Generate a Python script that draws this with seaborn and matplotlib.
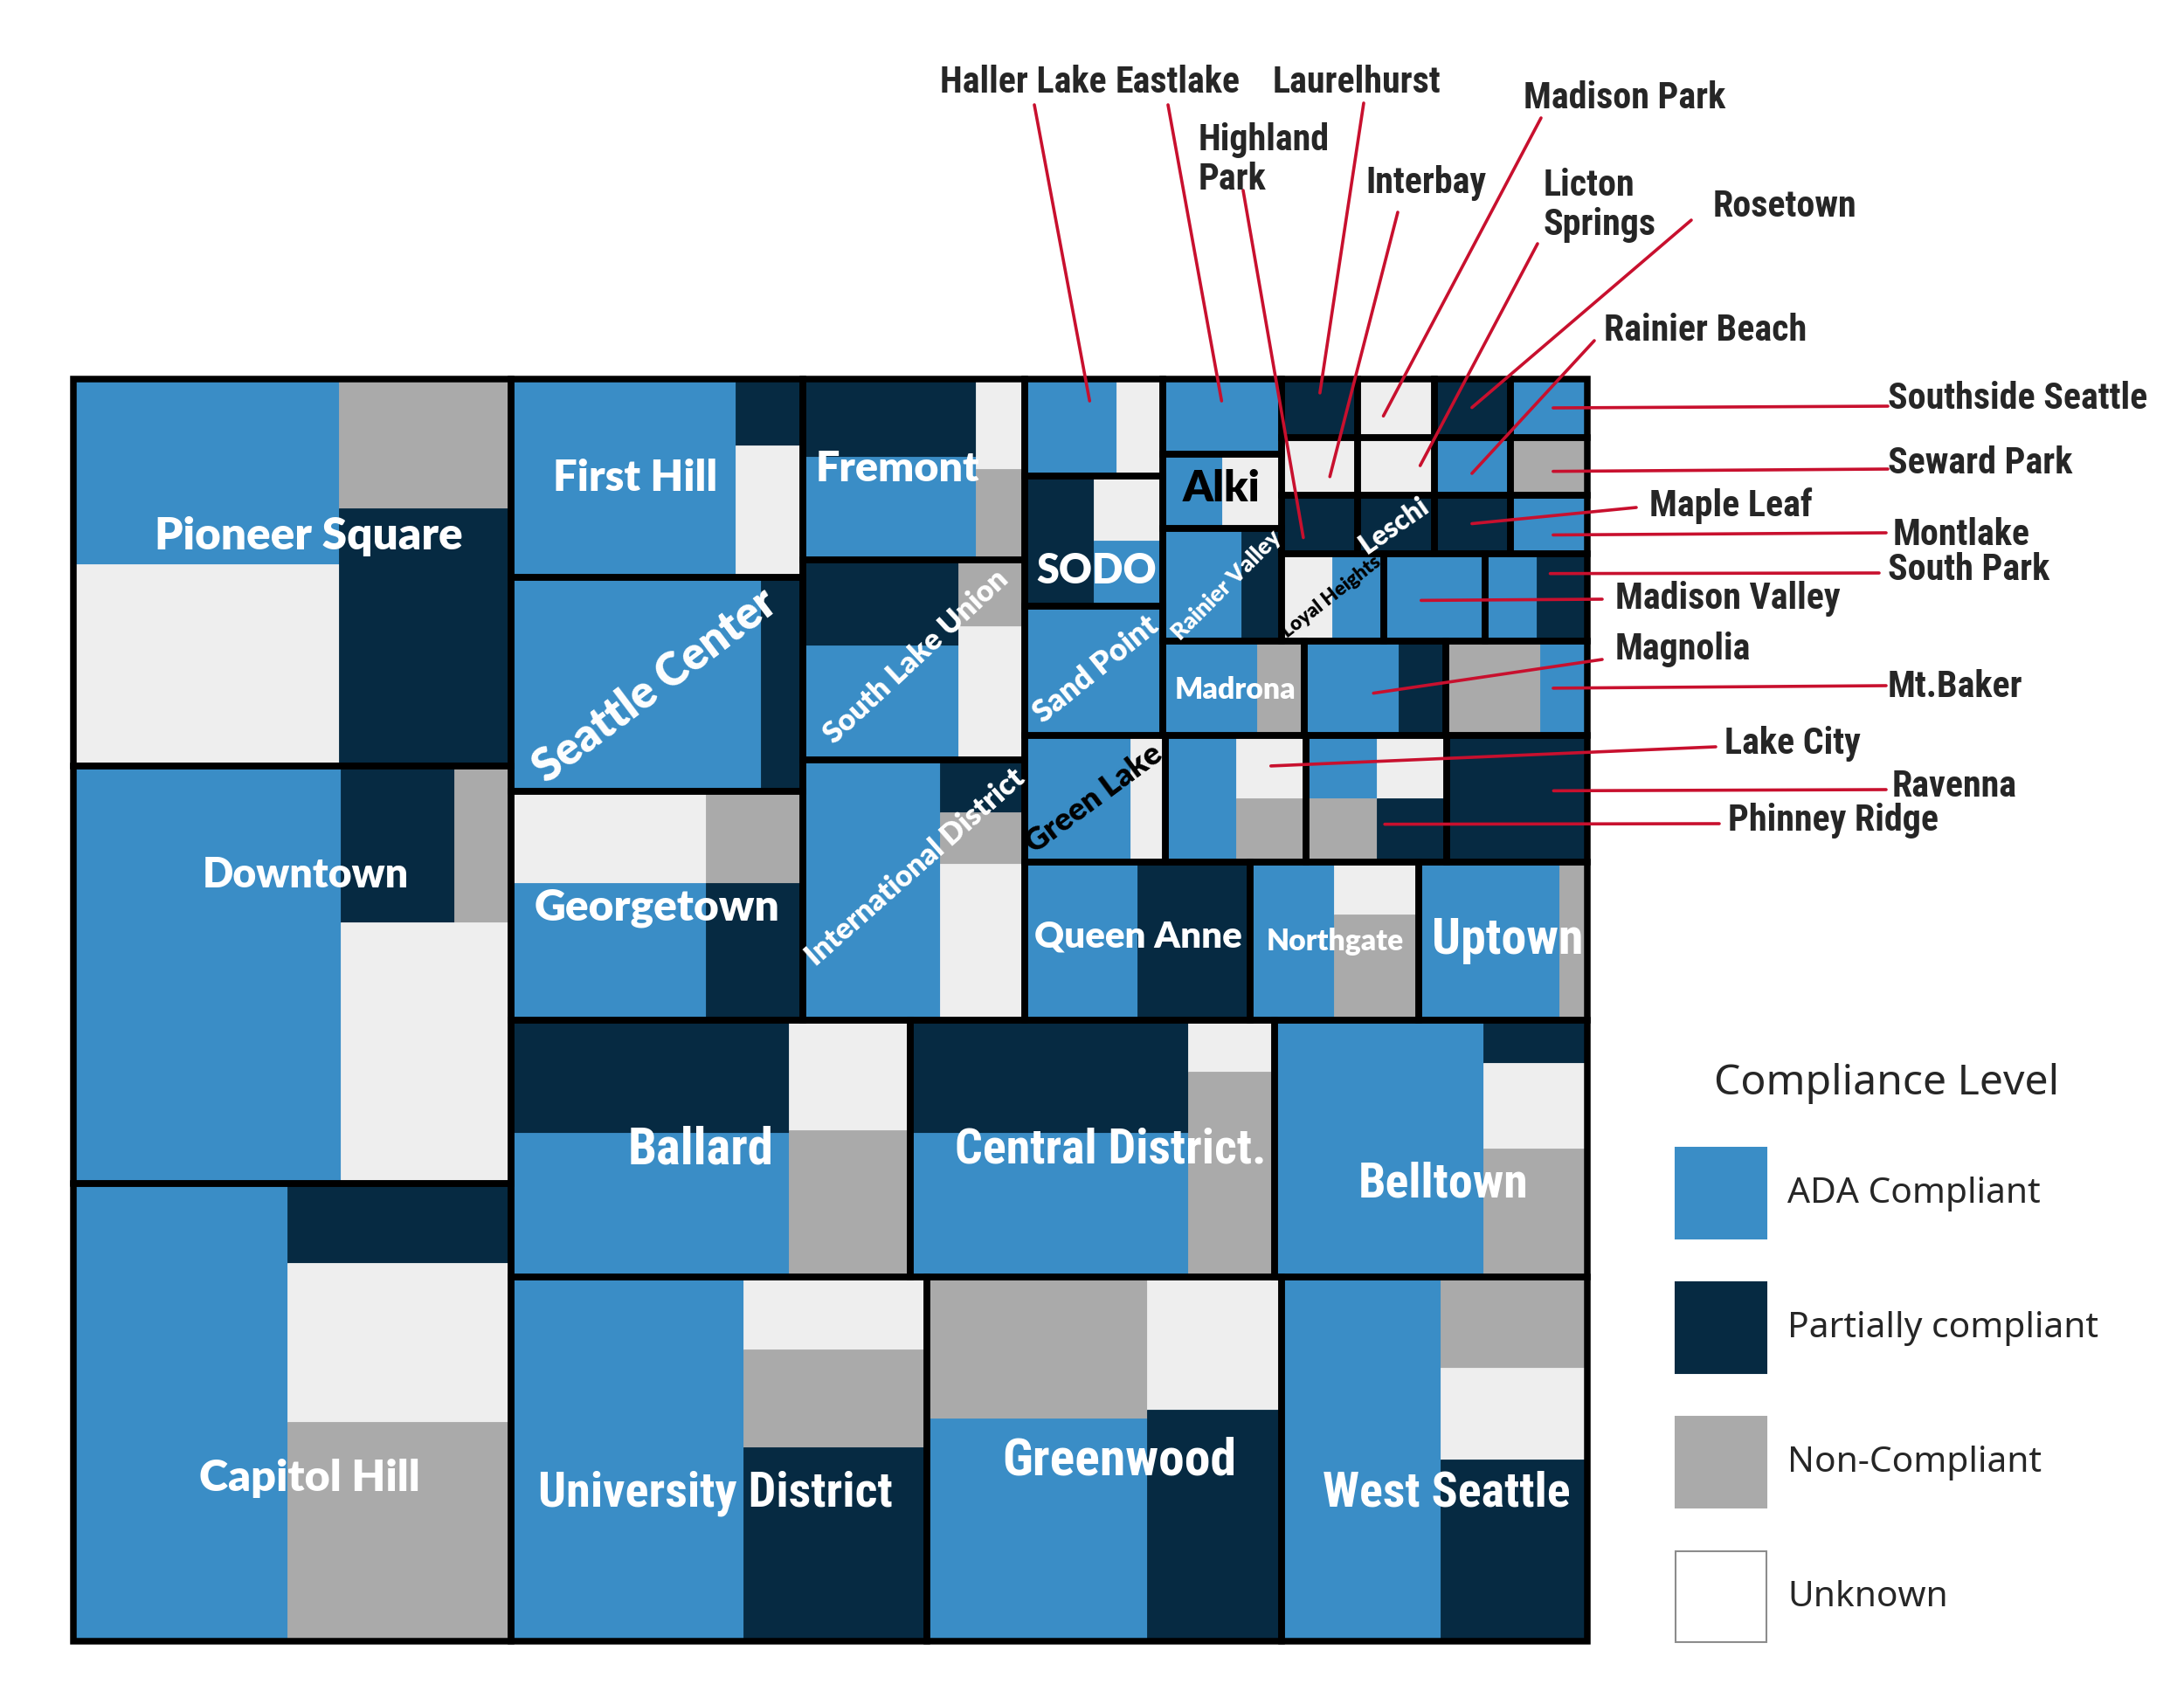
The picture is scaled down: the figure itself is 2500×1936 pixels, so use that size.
import matplotlib
matplotlib.use('Agg')
import matplotlib.pyplot as plt
from matplotlib.patches import Rectangle, Patch
from matplotlib import font_manager
import pandas as pd
import seaborn as sns

# ---- data: number of sites per compliance level ----
neighborhoods = [
    'Pioneer Square', 'Downtown', 'Capitol Hill',
    'First Hill', 'Seattle Center', 'Georgetown',
    'Fremont', 'South Lake Union', 'International District',
    'Haller Lake', 'SODO', 'Sand Point',
    'Eastlake', 'Alki', 'Rainier Valley',
    'Laurelhurst', 'Madison Park', 'Rosetown', 'Southside Seattle',
    'Interbay', 'Licton Springs', 'Rainier Beach', 'Seward Park',
    'Highland Park', 'Leschi', 'Maple Leaf', 'Montlake',
    'Loyal Heights', 'Madison Valley', 'South Park',
    'Madrona', 'Magnolia', 'Mt.Baker',
    'Green Lake', 'Lake City', 'Phinney Ridge', 'Ravenna',
    'Queen Anne', 'Northgate', 'Uptown',
    'Ballard', 'Central District.', 'Belltown',
    'University District', 'Greenwood', 'West Seattle',
]
ada = [11, 25, 22, 10, 12, 6, 4, 4, 8, 2, 1, 4, 2, 1, 2,
       0, 0, 0, 1, 0, 0, 1, 0, 0, 0, 0, 1, 1, 2, 1,
       2, 2, 1, 3, 2, 1, 0, 4, 3, 5, 9, 9, 12, 19, 11, 13]
partial = [10, 4, 4, 1, 2, 3, 3, 3, 1, 0, 2, 0, 0, 0, 1,
           1, 0, 1, 0, 0, 0, 0, 0, 1, 1, 1, 0, 0, 0, 1,
           0, 1, 0, 0, 0, 1, 4, 4, 0, 0, 7, 7, 1, 8, 7, 6]
non_compliant = [5, 2, 11, 0, 0, 2, 1, 1, 1, 0, 0, 0, 0, 0, 0,
                 0, 0, 0, 0, 0, 0, 0, 1, 0, 0, 0, 0, 0, 0, 0,
                 1, 0, 2, 0, 1, 1, 0, 0, 2, 1, 4, 4, 3, 4, 7, 3]
unknown = [12, 10, 8, 2, 0, 4, 1, 2, 3, 1, 1, 0, 0, 1, 0,
           0, 1, 0, 0, 1, 1, 0, 0, 0, 0, 0, 0, 1, 0, 0,
           0, 0, 0, 1, 1, 1, 0, 0, 1, 0, 3, 1, 2, 3, 4, 3]

categories = ['ADA Compliant', 'Partially compliant', 'Non-Compliant', 'Unknown']
codes = ['A', 'P', 'N', 'U']

df = pd.DataFrame({'A': ada, 'P': partial, 'N': non_compliant, 'U': unknown},
                  index=neighborhoods)
totals = df.sum(axis=1)

# ---- treemap structure: 'h' = side by side, 'v' = stacked ----
tree = ('h', [
    ('v', ['Pioneer Square', 'Downtown', 'Capitol Hill']),
    ('v', [
        ('h', [
            ('v', ['First Hill', 'Seattle Center', 'Georgetown']),
            ('v', ['Fremont', 'South Lake Union', 'International District']),
            ('v', [
                ('h', [
                    ('v', ['Haller Lake', 'SODO', 'Sand Point']),
                    ('v', [
                        ('h', [
                            ('v', ['Eastlake', 'Alki', 'Rainier Valley']),
                            ('v', [
                                ('h', ['Laurelhurst', 'Madison Park', 'Rosetown', 'Southside Seattle']),
                                ('h', ['Interbay', 'Licton Springs', 'Rainier Beach', 'Seward Park']),
                                ('h', ['Highland Park', 'Leschi', 'Maple Leaf', 'Montlake']),
                                ('h', ['Loyal Heights', 'Madison Valley', 'South Park']),
                            ]),
                        ]),
                        ('h', ['Madrona', 'Magnolia', 'Mt.Baker']),
                    ]),
                ]),
                ('h', ['Green Lake', 'Lake City', 'Phinney Ridge', 'Ravenna']),
                ('h', ['Queen Anne', 'Northgate', 'Uptown']),
            ]),
        ]),
        ('v', [
            ('h', ['Ballard', 'Central District.', 'Belltown']),
            ('h', ['University District', 'Greenwood', 'West Seattle']),
        ]),
    ]),
])

# how the compliance levels are tiled inside each neighborhood
tiles = {
    'Pioneer Square': ('h', [('v', 'AU'), ('v', 'NP')]),
    'Downtown': ('h', ['A', ('v', [('h', 'PN'), 'U'])]),
    'Capitol Hill': ('h', ['A', ('v', 'PUN')]),
    'First Hill': ('h', ['A', ('v', 'PU')]),
    'Seattle Center': ('h', 'AP'),
    'Georgetown': ('h', [('v', 'UA'), ('v', 'NP')]),
    'Fremont': ('h', [('v', 'PA'), ('v', 'UN')]),
    'South Lake Union': ('h', [('v', 'PA'), ('v', 'NU')]),
    'International District': ('h', ['A', ('v', 'PNU')]),
    'Haller Lake': ('h', 'AU'),
    'SODO': ('h', ['P', ('v', 'UA')]),
    'Alki': ('h', 'AU'),
    'Rainier Valley': ('h', 'AP'),
    'Loyal Heights': ('h', 'UA'),
    'South Park': ('h', 'AP'),
    'Madrona': ('h', 'AN'),
    'Magnolia': ('h', 'AP'),
    'Mt.Baker': ('h', 'NA'),
    'Green Lake': ('h', 'AU'),
    'Lake City': ('h', ['A', ('v', 'UN')]),
    'Phinney Ridge': ('h', [('v', 'AN'), ('v', 'UP')]),
    'Queen Anne': ('h', 'AP'),
    'Northgate': ('h', ['A', ('v', 'UN')]),
    'Uptown': ('h', 'AN'),
    'Ballard': ('h', [('v', 'PA'), ('v', 'UN')]),
    'Central District.': ('h', [('v', 'PA'), ('v', 'UN')]),
    'Belltown': ('h', ['A', ('v', 'PUN')]),
    'University District': ('h', ['A', ('v', 'UNP')]),
    'Greenwood': ('h', [('v', 'NA'), ('v', 'UP')]),
    'West Seattle': ('h', ['A', ('v', 'NUP')]),
}
for name in neighborhoods:
    if name not in tiles:
        tiles[name] = df.loc[name].idxmax()

# labels drawn inside the cells: relative x, relative y, rotation, width px, colour, narrow font
inner_labels = {
    'Pioneer Square': (0.537, 0.407, 0, 353, 'white', False),
    'Downtown': (0.529, 0.262, 0, 237, 'white', False),
    'Capitol Hill': (0.539, 0.645, 0, 253, 'white', False),
    'First Hill': (0.425, 0.498, 0, 188, 'white', False),
    'Seattle Center': (0.493, 0.507, 37, 334, 'white', False),
    'Georgetown': (0.499, 0.507, 0, 281, 'white', False),
    'Fremont': (0.427, 0.499, 0, 188, 'white', False),
    'South Lake Union': (0.51, 0.486, 43, 275, 'white', False),
    'International District': (0.508, 0.411, 41.5, 322, 'white', False),
    'SODO': (0.522, 0.735, 0, 137, 'white', False),
    'Alki': (0.496, 0.464, 0, 89, 'black', False),
    'Rainier Valley': (0.536, 0.5, 45, 166, 'white', False),
    'Sand Point': (0.519, 0.488, 39, 173, 'white', False),
    'Leschi': (0.48, 0.508, 35, 90, 'white', False),
    'Loyal Heights': (0.489, 0.495, 38, 138, 'black', False),
    'Madrona': (0.514, 0.518, 0, 139, 'white', False),
    'Green Lake': (0.489, 0.5, 36.5, 186, 'black', False),
    'Queen Anne': (0.504, 0.469, 0, 238, 'white', False),
    'Northgate': (0.503, 0.503, 0, 157, 'white', False),
    'Uptown': (0.528, 0.492, 0, 173, 'white', True),
    'Ballard': (0.474, 0.503, 0, 167, 'white', True),
    'Central District.': (0.549, 0.503, 0, 355, 'white', True),
    'Belltown': (0.538, 0.637, 0, 195, 'white', True),
    'University District': (0.491, 0.593, 0, 404, 'white', True),
    'Greenwood': (0.542, 0.505, 0, 267, 'white', True),
    'West Seattle': (0.54, 0.593, 0, 283, 'white', True),
}

# callouts for the small cells: text x/y (px), line start (px), line end relative to cell
callouts = {
    'Haller Lake': (1076, 94, 1184, 120, 0.47, 0.225),
    'Eastlake': (1277, 94, 1337, 120, 0.497, 0.292),
    'Laurelhurst': (1457, 94, 1561, 118, 0.503, 0.238),
    'Madison Park': (1744, 112, 1764, 135, 0.333, 0.634),
    'Highland Park': (1372, 183, 1423, 218, 0.286, 0.723),
    'Interbay': (1563, 209, 1600, 243, 0.633, 0.676),
    'Licton Springs': (1767, 235, 1760, 279, 0.814, 0.486),
    'Rosetown': (1961, 237, 1936, 252, 0.491, 0.489),
    'Rainier Beach': (1836, 379, 1825, 390, 0.491, 0.62),
    'Southside Seattle': (2161, 457, 2161, 465, 0.553, 0.495),
    'Seward Park': (2161, 531, 2161, 537, 0.553, 0.585),
    'Maple Leaf': (1888, 579, 1873, 581, 0.491, 0.483),
    'Montlake': (2167, 612, 2159, 610, 0.553, 0.677),
    'South Park': (2161, 652, 2151, 656, 0.636, 0.227),
    'Madison Valley': (1849, 686, 1834, 686, 0.37, 0.534),
    'Magnolia': (1849, 743, 1834, 755, 0.49, 0.552),
    'Mt.Baker': (2161, 787, 2159, 785, 0.759, 0.499),
    'Lake City': (1974, 852, 1964, 855, 0.749, 0.241),
    'Ravenna': (2166, 900, 2159, 904, 0.76, 0.437),
    'Phinney Ridge': (1978, 939, 1968, 943, 0.559, 0.701),
}
callout_text = {'Highland Park': 'Highland\nPark', 'Licton Springs': 'Licton\nSprings'}

# ---- style ----
sns.set_theme(style='white')
colors = dict(zip(codes, sns.color_palette(['#3a8dc6', '#062a42', '#aaaaaa', '#eeeeee'])))
line_red = '#c8102e'

installed = {f.name for f in font_manager.fontManager.ttflist}


def pick_font(*names):
    return next((n for n in names if n in installed), 'DejaVu Sans')


wide_font = pick_font('Lato', 'Noto Sans')
narrow_font = pick_font('Liberation Sans Narrow', 'Roboto Condensed', 'Noto Sans')
legend_font = pick_font('Noto Sans', 'Open Sans')
plt.rcParams['font.family'] = [legend_font, 'DejaVu Sans']


def weight_of(node, weight):
    if isinstance(node, str):
        return weight(node)
    return sum(weight_of(c, weight) for c in node[1])


def slice_dice(node, x, y, w, h, weight, out):
    if isinstance(node, str):
        out[node] = (x, y, w, h)
        return
    direction, children = node
    total = weight_of(node, weight)
    pos = 0.0
    for child in children:
        frac = weight_of(child, weight) / total
        if direction == 'h':
            slice_dice(child, x + pos * w, y, frac * w, h, weight, out)
        else:
            slice_dice(child, x, y + pos * h, w, frac * h, weight, out)
        pos += frac


W, H = 2500, 1936
fig = plt.figure(figsize=(W / 100, H / 100), dpi=100)
ax = fig.add_axes([84.5 / W, 1 - 1879 / H, 1732.5 / W, 1445 / H])
ax.set_xlim(0, 1)
ax.set_ylim(1, 0)
ax.axis('off')
renderer = fig.canvas.get_renderer()


def fit_width(t, target):
    t.set_fontsize(t.get_fontsize() * target / t.get_window_extent(renderer).width)


def fitted_size(text, target, **kw):
    probe = fig.text(0, 0, text, fontsize=20, **kw)
    fit_width(probe, target)
    size = probe.get_fontsize()
    probe.remove()
    return size


rects = {}
slice_dice(tree, 0, 0, 1, 1, lambda n: totals[n], rects)

for name, (x, y, w, h) in rects.items():
    parts = {}
    slice_dice(tiles[name], x, y, w, h, lambda c: df.loc[name, c], parts)
    for code, (cx, cy, cw, ch) in parts.items():
        ax.add_patch(Rectangle((cx, cy), cw, ch, facecolor=colors[code],
                               edgecolor=colors[code], lw=0.6, zorder=1))

for name, (x, y, w, h) in rects.items():
    ax.add_patch(Rectangle((x, y), w, h, fill=False, edgecolor='black',
                           lw=5.4, clip_on=False, zorder=3))

for name, (rx, ry, rot, width, color, narrow) in inner_labels.items():
    x, y, w, h = rects[name]
    t = ax.text(x + rx * w, y + ry * h, name, ha='center', va='center', color=color,
                fontfamily=narrow_font if narrow else wide_font, fontweight='heavy',
                fontsize=20, rotation_mode='anchor', zorder=5)
    fit_width(t, width)
    t.set_rotation(rot)

callout_size = fitted_size('Southside Seattle', 296, fontfamily=narrow_font, fontweight='bold')

for name, (tx, ty, sx, sy, ex, ey) in callouts.items():
    fig.text(tx / W, 1 - ty / H, callout_text.get(name, name), ha='left', va='center',
             fontfamily=narrow_font, fontweight='bold', fontsize=callout_size,
             linespacing=1.1, zorder=6)
    x, y, w, h = rects[name]
    ax.annotate('', xy=(x + ex * w, y + ey * h), xycoords='data',
                xytext=(sx / W, 1 - sy / H), textcoords='figure fraction',
                arrowprops=dict(arrowstyle='-', color=line_red, lw=2.6, shrinkA=0, shrinkB=0),
                annotation_clip=False, zorder=6)

# ---- legend ----
label_size = fitted_size('Partially compliant', 356, fontfamily=legend_font)
title_size = fitted_size('Compliance Level', 395, fontfamily=legend_font)
fs_px = label_size * 100 / 72
box_px = 104

handles = []
for code, label in zip(codes, categories):
    face = 'white' if code == 'U' else colors[code]
    edge = '#8c8c8c' if code == 'U' else colors[code]
    handles.append(Patch(facecolor=face, edgecolor=edge, lw=1.5, label=label))

fig.legend(handles=handles, loc='lower left', bbox_to_anchor=(1917.5 / W, 1 - 1880 / H),
           frameon=False, borderpad=0, borderaxespad=0,
           handlelength=box_px / fs_px,
           handleheight=(box_px / fs_px - 0.245) / 0.65,
           handletextpad=25 / fs_px, labelspacing=50 / fs_px,
           title='Compliance Level', prop={'family': legend_font, 'size': label_size},
           title_fontproperties={'family': legend_font, 'size': title_size})

fig.savefig('out.png', dpi=100, facecolor='white')
